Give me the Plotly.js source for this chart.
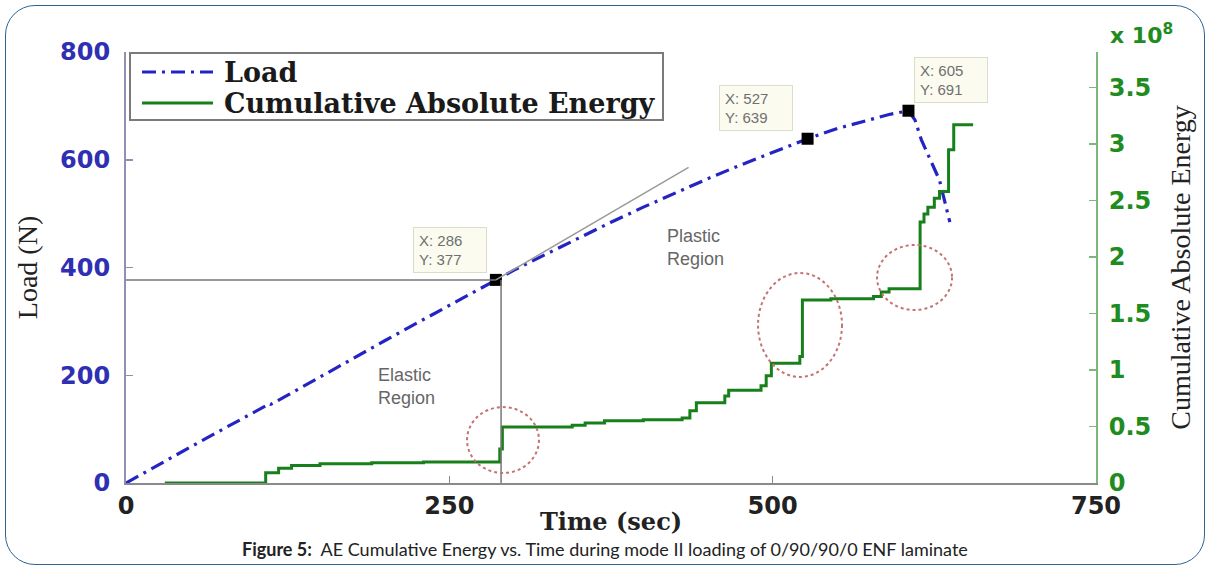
<!DOCTYPE html>
<html>
<head>
<meta charset="utf-8">
<script src="https://cdn.plot.ly/plotly-3.0.1.min.js"></script>
<style>
  html, body { margin: 0; padding: 0; background: #ffffff; }
  #wrap { position: relative; width: 1211px; height: 569px; overflow: hidden; }
  #chart { position: absolute; left: 0; top: 0; width: 1211px; height: 569px; }
  #frame { position: absolute; left: 5px; top: 5px; width: 1198px; height: 558px;
           border: 1.5px solid #2d6596; border-radius: 30px; pointer-events: none; }
</style>
</head>
<body>
<div id="wrap">
  <div id="chart"></div>
  <div id="frame"></div>
</div>
<script>
// ---- Load curve (N) vs time (s) ----
const loadTime = [0, 25, 50, 75, 100, 108, 110, 112, 125, 150, 175, 200, 225, 250, 275, 286,
                  300, 325, 350, 375, 400, 425, 450, 475, 500, 527, 550, 575, 590, 605,
                  610, 615, 622, 629, 637];
const loadN    = [0, 34, 67, 100, 133, 143, 148, 146, 163, 197, 231, 264, 297, 330, 363, 377,
                  395, 425, 455, 484, 512, 539, 565, 590, 614, 639, 658, 675, 684, 691,
                  674, 637, 600, 562, 484];

// ---- Cumulative absolute energy (x 10^8) vs time (s), step curve ----
const energyTime = [30, 108, 118, 128, 150, 190, 230, 289, 291, 345, 355, 370, 400, 430, 436, 441,
                    463, 466, 491, 495, 499, 521, 523, 545, 578, 584, 590, 614, 617, 620, 625,
                    629, 636, 640, 655];
const energyE8   = [0, 0.09, 0.13, 0.155, 0.17, 0.18, 0.186, 0.30, 0.496, 0.51, 0.53, 0.55, 0.56, 0.575, 0.64, 0.71,
                    0.77, 0.82, 0.86, 0.95, 1.06, 1.12, 1.62, 1.63, 1.65, 1.69, 1.72, 2.31, 2.38, 2.44, 2.52,
                    2.58, 2.95, 3.17, 3.17];

// ---- Data tips ----
const tipX = [286, 527, 605];
const tipY = [377, 639, 691];

// ---- Series names (legend) ----
const seriesNames = ['Load', 'Cumulative Absolute Energy'];

// ---- Axis ticks ----
const xTicks = [0, 250, 500, 750];
const yTicks = [0, 200, 400, 600, 800];
const y2Ticks = [0, 0.5, 1, 1.5, 2, 2.5, 3, 3.5];
const y2TickText = ['0', '0.5', '1', '1.5', '2', '2.5', '3', '3.5'];

const loadColor = '#2424c4';
const loadDash = '14px,6px,3px,6px';
const energyColor = '#17801a';

const traces = [
  {
    x: loadTime, y: loadN, name: seriesNames[0], type: 'scatter', mode: 'lines',
    line: { color: loadColor, width: 3.2, dash: loadDash },
    yaxis: 'y', showlegend: false
  },
  {
    x: energyTime, y: energyE8, name: seriesNames[1], type: 'scatter', mode: 'lines',
    line: { color: energyColor, width: 3, shape: 'hv' },
    yaxis: 'y2', showlegend: false
  },
  {
    x: tipX, y: tipY, type: 'scatter', mode: 'markers', showlegend: false,
    marker: { symbol: 'square', size: 12, color: '#000000' },
    yaxis: 'y'
  }
];

const tipAnn = tipX.map((tx, i) => ({
  x: tx, y: tipY[i], xref: 'x', yref: 'y',
  text: 'X: ' + tx + '<br>Y: ' + tipY[i],
  showarrow: true, arrowcolor: 'rgba(0,0,0,0)', arrowwidth: 0.1,
  ax: [-46, -52, 43][i], ay: [-30, -31, -31][i],
  align: 'left', width: 62, height: 34,
  font: { family: 'Liberation Sans, Arial, sans-serif', size: 15, color: '#707070' },
  bgcolor: '#fbfbef', bordercolor: '#dcdccc', borderwidth: 1, borderpad: 5
}));

// manual legend geometry (paper coordinates)
const P = (px) => (px - 126) / 970;
const Q = (py) => (483 - py) / 431;
const legendRows = [72, 103];

const layout = {
  width: 1211, height: 569,
  margin: { l: 126, r: 115, t: 52, b: 86 },
  paper_bgcolor: '#ffffff', plot_bgcolor: '#ffffff',
  showlegend: false,
  xaxis: {
    range: [0, 750], tickvals: xTicks, ticktext: xTicks.map(String),
    showgrid: false, zeroline: false,
    showline: true, linecolor: '#8a8a8a', linewidth: 2,
    ticks: 'inside', ticklen: 7, tickcolor: '#8a8a8a', tickwidth: 1.5,
    tickfont: { family: 'DejaVu Sans', size: 24, color: '#222222', weight: 'bold' },
    ticklabelstandoff: 0
  },
  yaxis: {
    range: [0, 800], tickvals: yTicks, ticktext: yTicks.map(String),
    showgrid: false, zeroline: false,
    showline: true, linecolor: '#9090b4', linewidth: 2,
    ticks: 'inside', ticklen: 7, tickcolor: '#9090b4', tickwidth: 1.5,
    tickfont: { family: 'DejaVu Sans', size: 24, color: '#2f2fb4', weight: 'bold' },
    ticklabelstandoff: 9,
    title: { text: 'Load (N)', standoff: 14,
             font: { family: 'Liberation Serif', size: 28, color: '#222222' } }
  },
  yaxis2: {
    overlaying: 'y', side: 'right', anchor: 'x',
    range: [0, 3.814], tickvals: y2Ticks, ticktext: y2TickText,
    showgrid: false, zeroline: false,
    showline: true, linecolor: '#7cb87c', linewidth: 2,
    ticks: 'inside', ticklen: 7, tickcolor: '#7cb87c', tickwidth: 1.5,
    tickfont: { family: 'DejaVu Sans', size: 24, color: '#1e8c1e', weight: 'bold' },
    ticklabelstandoff: 6,
    title: { text: 'Cumulative Absolute Energy', standoff: 20,
             font: { family: 'Liberation Serif', size: 28, color: '#222222' } }
  },
  shapes: [
    { type: 'line', xref: 'x', yref: 'y', x0: 0, x1: 286, y0: 377, y1: 377,
      line: { color: '#777777', width: 1.5 } },
    { type: 'line', xref: 'x', yref: 'y', x0: 290, x1: 290, y0: 0, y1: 377,
      line: { color: '#777777', width: 1.5 } },
    { type: 'line', xref: 'x', yref: 'y', x0: 286, x1: 435, y0: 377, y1: 586,
      line: { color: '#9a9a9a', width: 1.5 } },
    { type: 'circle', xref: 'x', yref: 'y', x0: 263.7, x1: 319.3, y0: 18.6, y1: 141,
      line: { color: '#c47272', width: 2, dash: 'dot' } },
    { type: 'circle', xref: 'x', yref: 'y', x0: 488.7, x1: 553.6, y0: 196.8, y1: 389.8,
      line: { color: '#c47272', width: 2, dash: 'dot' } },
    { type: 'circle', xref: 'x', yref: 'y', x0: 580.7, x1: 638.7, y0: 321.1, y1: 441.8,
      line: { color: '#c47272', width: 2, dash: 'dot' } },
    // legend box and samples
    { type: 'rect', xref: 'paper', yref: 'paper', x0: P(130), x1: P(663), y0: Q(120), y1: Q(53),
      fillcolor: '#ffffff', line: { color: '#7a7a7a', width: 2 }, layer: 'above' },
    { type: 'line', xref: 'paper', yref: 'paper', x0: P(142), x1: P(213), y0: Q(legendRows[0]), y1: Q(legendRows[0]),
      line: { color: loadColor, width: 3.2, dash: loadDash }, layer: 'above' },
    { type: 'line', xref: 'paper', yref: 'paper', x0: P(142), x1: P(213), y0: Q(legendRows[1]), y1: Q(legendRows[1]),
      line: { color: energyColor, width: 3 }, layer: 'above' }
  ],
  annotations: tipAnn.concat([
    { x: P(222), y: Q(legendRows[0]), xref: 'paper', yref: 'paper', xanchor: 'left', yanchor: 'middle',
      showarrow: false, text: seriesNames[0],
      font: { family: 'DejaVu Serif', size: 27, color: '#1a1a1a', weight: 'bold' } },
    { x: P(222), y: Q(legendRows[1]), xref: 'paper', yref: 'paper', xanchor: 'left', yanchor: 'middle',
      showarrow: false, text: seriesNames[1],
      font: { family: 'DejaVu Serif', size: 27, color: '#1a1a1a', weight: 'bold' } },
    { x: 217, y: 180, xref: 'x', yref: 'y', showarrow: false, align: 'left',
      text: 'Elastic<br>Region',
      font: { family: 'Liberation Sans, Arial, sans-serif', size: 18, color: '#666666' } },
    { x: 440, y: 438, xref: 'x', yref: 'y', showarrow: false, align: 'left',
      text: 'Plastic<br>Region',
      font: { family: 'Liberation Sans, Arial, sans-serif', size: 18, color: '#666666' } },
    { x: 0.4995, y: -0.089, xref: 'paper', yref: 'paper', xanchor: 'center', yanchor: 'middle',
      showarrow: false, text: 'Time (sec)',
      font: { family: 'DejaVu Serif', size: 24, color: '#222222', weight: 'bold' } },
    { x: 1.047, y: 1.042, xref: 'paper', yref: 'paper', xanchor: 'center', yanchor: 'middle',
      showarrow: false, text: 'x 10<sup>8</sup>',
      font: { family: 'DejaVu Sans', size: 22, color: '#1e8c1e', weight: 'bold' } },
    { x: 0.4938, y: -0.153, xref: 'paper', yref: 'paper', xanchor: 'center', yanchor: 'middle',
      showarrow: false,
      text: '<b>Figure 5:</b>&nbsp; AE Cumulative Energy vs. Time during mode II loading of 0/90/90/0 ENF laminate',
      font: { family: 'Lato, Open Sans, sans-serif', size: 18, color: '#222222' } }
  ])
};

Plotly.newPlot('chart', traces, layout, { displayModeBar: false, staticPlot: true });
</script>
</body>
</html>
